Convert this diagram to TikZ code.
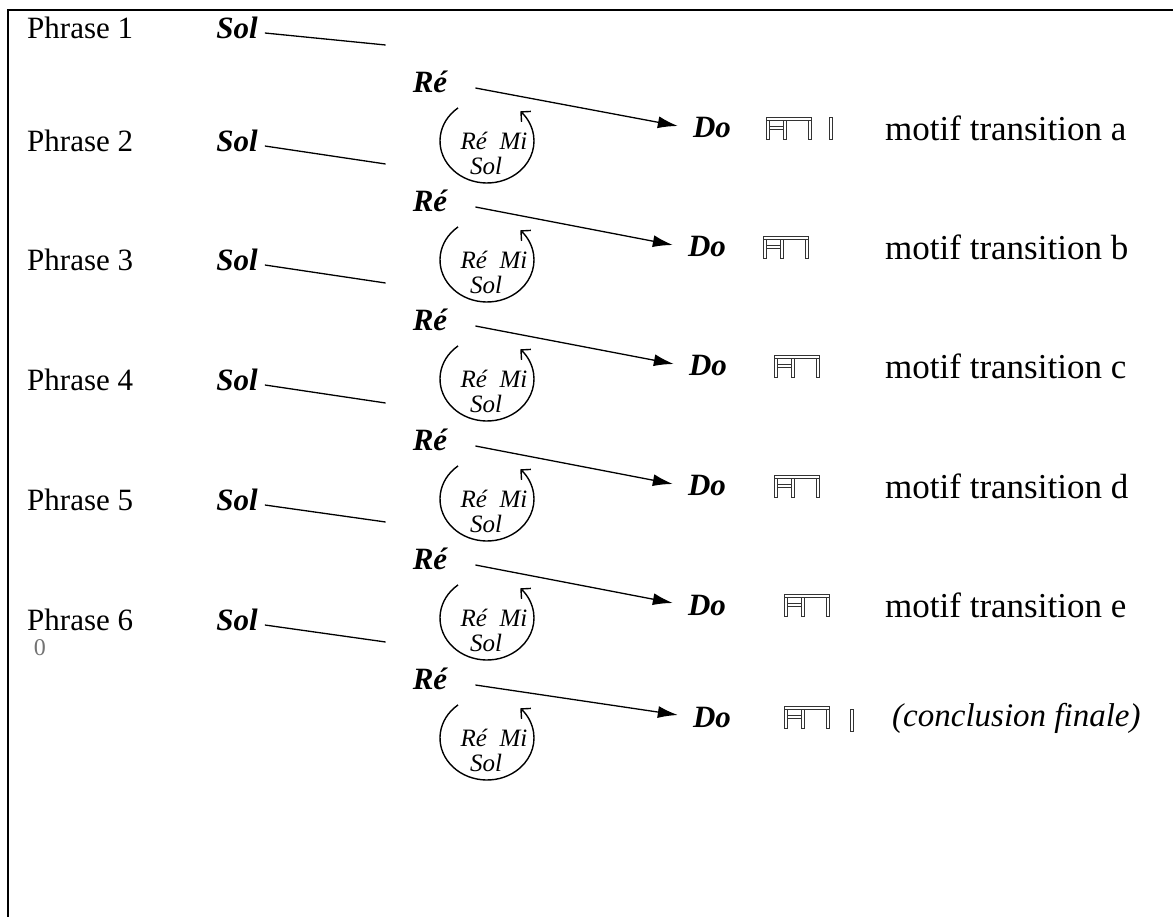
\documentclass[tikz,border=0pt]{standalone}
\usepackage{fontspec}
\setmainfont{Liberation Serif}
\usetikzlibrary{arrows.meta}
\begin{document}
\begin{tikzpicture}[x=1pt,y=1pt,
  lbl/.style={anchor=west,inner sep=0pt,font=\fontsize{31}{36}\selectfont},
  note/.style={inner sep=1pt,font=\fontsize{31}{36}\selectfont\bfseries\itshape},
  small/.style={inner sep=0pt,font=\fontsize{25}{29}\selectfont\itshape},
  motif/.style={anchor=west,inner sep=0pt,font=\fontsize{35}{40}\selectfont},
  link/.style={line width=1.3pt},
  loopline/.style={line width=1.4pt,-{Straight Barb[angle=90:10pt,line width=1.4pt]}},
  rhy/.style={draw=black!80,line width=0.8pt,fill=white},
  pics/rhythm/.style={code={
    \draw[rhy] (-1.6,-11) rectangle (1.6,9);
    \draw[rhy] (15.4,-11) rectangle (18.6,9);
    \draw[rhy] (40.4,-11) rectangle (43.6,9);
    \draw[rhy] (1.6,-1.4) rectangle (15.4,1.4);
    \draw[rhy] (-1.6,8) rectangle (43.6,11);
  }},
  pics/stem/.style={code={\draw[rhy] (-1.6,-11) rectangle (1.6,11);}},
]
\useasboundingbox (0,0) rectangle (1173,-917);
\draw[line width=1.5pt] (8,-917) -- (8,-10) -- (1173,-10);

\foreach \i/\dy/\dx/\sx/\dd in {1/0/712/768/0, 2/119/707/765/0, 3/238/708/776/0, 4/358/707/776/0, 5/477/707/786/0, 6/597/712/786/-8}{
  \node[note] (re\i) at (430,-82-\dy) {Ré};
  \node[note] (do\i) at (\dx,-128-\dy-\dd) {Do};
  \draw[link,-{Latex[length=20pt,width=12pt]}] ([shift={(27,-6)}]re\i.east) -- ([shift={(-14,2)}]do\i.west);
  \coordinate (c\i) at (487,-141-\dy);
  \draw[loopline] ([shift={(128:47 and 42)}]c\i) arc[start angle=128,end angle=405,x radius=47,y radius=42];
  \node[small] (rm\i) at (494,-141-\dy) {Ré\enspace Mi};
  \node[small] (so\i) at (486,-166-\dy) {Sol};
  \pic (sym\i) at (\sx,-128-\dy-\dd) {rhythm};
}
\foreach \i/\dy in {1/6, 2/119, 3/238, 4/358, 5/478, 6/598}{
  \node[lbl] (ph\i) at (27,-22-\dy) {Phrase \i};
  \node[note] (sol\i) at (237,-22-\dy) {Sol};
}
\foreach \i in {1,...,6}{
  \draw[link] ([shift={(6,-5)}]sol\i.east) -- ([shift={(-26,37)}]re\i.west);
}
\pic (stemA) at (831,-128) {stem};
\pic (stemB) at (852,-720) {stem};

\foreach \i/\dy/\l in {1/0/a, 2/119/b, 3/238/c, 4/358/d, 5/477/e}{
  \node[motif] (mot\i) at (885,-128-\dy) {motif transition \l};
}
\node[anchor=west,inner sep=0pt,font=\fontsize{33}{38}\selectfont\itshape] (concl) at (892,-718) {(conclusion finale)};
\node[inner sep=0pt,font=\fontsize{24}{28}\selectfont,text=black!55] (zero) at (40,-648) {0};
\end{tikzpicture}
\end{document}
